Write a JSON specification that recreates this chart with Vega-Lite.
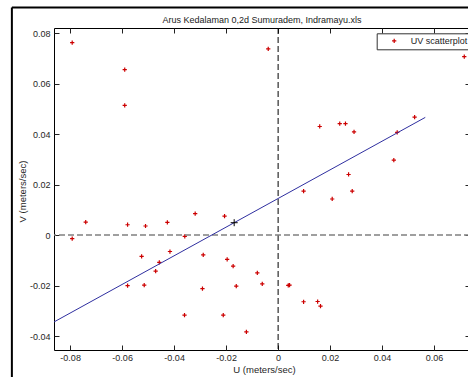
{
  "$schema": "https://vega.github.io/schema/vega-lite/v6.json",
  "width": 416,
  "height": 322,
  "autosize": {"type": "none"},
  "padding": {"left": 54, "top": 28, "right": 0, "bottom": 27},
  "background": "white",
  "title": {"text": "Arus Kedalaman 0,2d Sumuradem, Indramayu.xls", "fontSize": 9, "font": "Liberation Sans", "fontWeight": "normal", "color": "#222222", "baseline": "alphabetic", "offset": 6, "dy": 31, "anchor": "middle", "frame": "group"},
  "config": {
    "view": {"stroke": "#000000", "strokeWidth": 1},
    "axis": {"grid": false, "domain": false, "tickColor": "#222222", "tickSize": -5, "labelFont": "Liberation Sans", "labelFontSize": 9, "labelColor": "#262626", "titleFont": "Liberation Sans", "titleFontSize": 9.5, "titleFontWeight": "normal", "titleColor": "#262626"}
  },
  "datasets": {
    "pts": [
      {"u": -0.0792, "v": 0.0762}, {"u": -0.0038, "v": 0.0737}, {"u": 0.0716, "v": 0.0707},
      {"u": -0.0590, "v": 0.0655}, {"u": -0.0590, "v": 0.0514}, {"u": -0.0792, "v": -0.0014},
      {"u": -0.0740, "v": 0.0051}, {"u": -0.0579, "v": 0.0041}, {"u": -0.0510, "v": 0.0036},
      {"u": -0.0525, "v": -0.0084}, {"u": -0.0457, "v": -0.0108}, {"u": -0.0471, "v": -0.0143},
      {"u": -0.0579, "v": -0.0200}, {"u": -0.0515, "v": -0.0198}, {"u": -0.0426, "v": 0.0050},
      {"u": -0.0319, "v": 0.0085}, {"u": -0.0206, "v": 0.0075}, {"u": -0.0359, "v": -0.0005},
      {"u": -0.0416, "v": -0.0065}, {"u": -0.0288, "v": -0.0078}, {"u": -0.0196, "v": -0.0096},
      {"u": -0.0173, "v": -0.0123}, {"u": -0.0080, "v": -0.0150}, {"u": -0.0061, "v": -0.0193},
      {"u": -0.0161, "v": -0.0202}, {"u": -0.0291, "v": -0.0212}, {"u": 0.0039, "v": -0.0199},
      {"u": 0.0044, "v": -0.0198}, {"u": 0.0098, "v": -0.0264}, {"u": -0.0360, "v": -0.0317},
      {"u": -0.0211, "v": -0.0317}, {"u": -0.0122, "v": -0.0383}, {"u": 0.0098, "v": 0.0174},
      {"u": 0.0160, "v": 0.0430}, {"u": 0.0237, "v": 0.0441}, {"u": 0.0259, "v": 0.0441},
      {"u": 0.0292, "v": 0.0409}, {"u": 0.0525, "v": 0.0467}, {"u": 0.0458, "v": 0.0407},
      {"u": 0.0445, "v": 0.0297}, {"u": 0.0271, "v": 0.0240}, {"u": 0.0285, "v": 0.0174},
      {"u": 0.0208, "v": 0.0143}, {"u": 0.0152, "v": -0.0263}, {"u": 0.0163, "v": -0.0281}
    ],
    "fit": [{"u": -0.0862, "v": -0.0344}, {"u": 0.0566, "v": 0.0466}],
    "mean": [{"u": -0.0169, "v": 0.0049}],
    "frame": [
      {"u": -0.1024, "v": 0.0901, "u2": -0.1024, "v2": -0.08},
      {"u": -0.1024, "v": 0.0901, "u2": 0.1, "v2": 0.0901}
    ]
  },
  "layer": [
    {
      "data": {"name": "pts"},
      "mark": {"type": "point", "shape": "M-1,0H1M0,-1V1", "size": 18, "filled": false, "strokeWidth": 1.2, "opacity": 1},
      "encoding": {
        "x": {"field": "u", "type": "quantitative", "scale": {"domain": [-0.0862, 0.0738], "nice": false, "zero": false},
              "axis": {"orient": "bottom", "title": "U (meters/sec)", "values": [-0.08, -0.06, -0.04, -0.02, 0, 0.02, 0.04, 0.06], "labelExpr": "abs(datum.value) < 1e-9 ? '0' : (datum.value < 0 ? '-' : '') + format(abs(datum.value), '.2f')", "labelPadding": 8, "titleX": 210, "titleY": 22, "titleBaseline": "alphabetic"}},
        "y": {"field": "v", "type": "quantitative", "scale": {"domain": [-0.0455, 0.082], "nice": false, "zero": false},
              "axis": {"orient": "left", "title": "V (meters/sec)", "values": [-0.04, -0.02, 0, 0.02, 0.04, 0.06, 0.08], "labelExpr": "abs(datum.value) < 1e-9 ? '0' : (datum.value < 0 ? '-' : '') + format(abs(datum.value), '.2f')", "labelPadding": 9, "titleX": -29, "titleY": 163, "titleAngle": -90, "titleAlign": "center", "titleBaseline": "alphabetic"}},
        "color": {"datum": "UV scatterplot", "type": "nominal", "scale": {"range": ["#cc0000"]},
                  "legend": {"orient": "none", "legendX": 322.7, "legendY": 5.3, "title": null, "strokeColor": "#333333", "fillColor": "white", "padding": 3, "symbolOffset": 10, "labelOffset": 12, "labelFontSize": 9, "labelFont": "Liberation Sans", "labelColor": "#222222", "symbolSize": 18, "symbolStrokeWidth": 1.2, "symbolType": "M-1,0H1M0,-1V1", "symbolStrokeColor": "#cc0000", "symbolFillColor": "transparent", "cornerRadius": 0}}
      }
    },
    {
      "data": {"values": [{"u": 0}]},
      "mark": {"type": "rule", "color": "#000000", "strokeWidth": 1, "strokeDash": [6, 3]},
      "encoding": {
        "x": {"field": "u", "type": "quantitative", "axis": {"orient": "top", "labels": false, "title": null, "values": [-0.08, -0.06, -0.04, -0.02, 0, 0.02, 0.04, 0.06]}}
      }
    },
    {
      "data": {"values": [{"v": 0}]},
      "mark": {"type": "rule", "color": "#808080", "strokeWidth": 1.5, "strokeDash": [6, 3]},
      "encoding": {
        "y": {"field": "v", "type": "quantitative", "axis": {"orient": "right", "labels": false, "title": null, "values": [-0.04, -0.02, 0, 0.02, 0.04, 0.06, 0.08]}}
      }
    },
    {
      "data": {"name": "frame"},
      "mark": {"type": "rule", "color": "#000000", "strokeWidth": 2, "clip": false},
      "encoding": {
        "x": {"field": "u", "type": "quantitative", "axis": null},
        "y": {"field": "v", "type": "quantitative", "axis": null},
        "x2": {"field": "u2"},
        "y2": {"field": "v2"}
      }
    },
    {
      "data": {"name": "fit"},
      "mark": {"type": "line", "color": "#2f2fa0", "strokeWidth": 1},
      "encoding": {
        "x": {"field": "u", "type": "quantitative", "axis": null},
        "y": {"field": "v", "type": "quantitative", "axis": null}
      }
    },
    {
      "data": {"name": "mean"},
      "mark": {"type": "point", "shape": "M-1,0H1M0,-1V1", "size": 49, "filled": false, "strokeWidth": 1, "color": "#000000", "opacity": 1},
      "encoding": {
        "x": {"field": "u", "type": "quantitative", "axis": null},
        "y": {"field": "v", "type": "quantitative", "axis": null}
      }
    }
  ]
}
